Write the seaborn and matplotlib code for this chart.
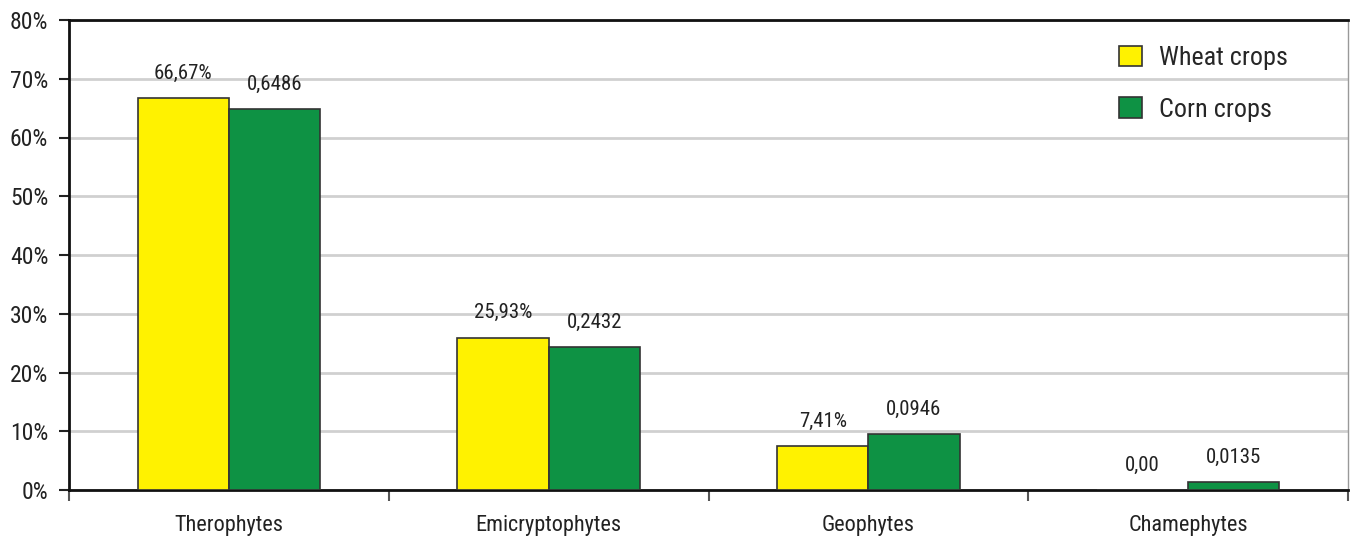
import matplotlib
matplotlib.use("Agg")
import matplotlib.pyplot as plt
import seaborn as sns
import pandas as pd
from matplotlib.patches import Patch
from matplotlib import font_manager

categories = ["Therophytes", "Emicryptophytes", "Geophytes", "Chamephytes"]
wheat = [66.67, 25.93, 7.41, 0.00]
corn = [64.86, 24.32, 9.46, 1.35]
wheat_labels = ["66,67%", "25,93%", "7,41%", "0,00"]
corn_labels = ["0,6486", "0,2432", "0,0946", "0,0135"]
series_names = ["Wheat crops", "Corn crops"]
y_ticks = [0, 10, 20, 30, 40, 50, 60, 70, 80]

colors = {"Wheat crops": "#FFF200", "Corn crops": "#0E9244"}

df = pd.DataFrame({
    "category": categories * 2,
    "value": wheat + corn,
    "series": [series_names[0]] * 4 + [series_names[1]] * 4,
})

sns.set_style("white")

# Prefer a narrow sans face when one is installed
narrow_face = None
for f in font_manager.fontManager.ttflist:
    if f.style != "normal" or f.weight not in (400, "normal", "regular"):
        continue
    name = f.name
    if any(k in name for k in ("Narrow", "Condensed")) or f.stretch in ("condensed", "semi-condensed", 500 - 125, 375):
        if any(k in name for k in ("Liberation", "Arial", "Roboto", "Noto Sans", "Open Sans", "DejaVu Sans")):
            if "Mono" in name or "CJK" in name:
                continue
            narrow_face = f
            if "Liberation" in name or "Arial" in name:
                break

if narrow_face is not None:
    plt.rcParams["font.family"] = [narrow_face.name, "Liberation Sans", "DejaVu Sans"]
    plt.rcParams["font.stretch"] = narrow_face.stretch
    scale = 1.0
else:
    plt.rcParams["font.family"] = ["Liberation Sans", "DejaVu Sans"]
    scale = 0.82

fig = plt.figure(figsize=(13.5, 5.38), dpi=100)
ax = fig.add_axes([69 / 1350, 48 / 538, (1348 - 69) / 1350, 470 / 538])

sns.barplot(data=df, x="category", y="value", hue="series", order=categories,
            hue_order=series_names, palette=colors, width=0.57, dodge=True,
            edgecolor="#333333", linewidth=1.2, saturation=1, errorbar=None,
            legend=False, ax=ax, zorder=3)

ax.set_ylim(0, 80)
ax.set_xlim(-0.5, 3.5)
ax.set_yticks(y_ticks)
ax.set_yticklabels([f"{t}%" for t in y_ticks], fontsize=17 * scale, color="#222222")
ax.yaxis.grid(True, color="#d0d0d0", linewidth=2, zorder=0)
ax.set_axisbelow(True)

# Category names sit between the boundary ticks
ax.set_xticks([i - 0.5 for i in range(5)])
ax.set_xticklabels([])
ax.set_xticks(range(4), minor=True)
ax.set_xticklabels(categories, minor=True, fontsize=16 * scale, color="#222222")
ax.tick_params(axis="x", which="major", direction="out", length=8, width=1.5,
               color="#555555", bottom=True)
ax.tick_params(axis="x", which="minor", length=0, pad=18)
ax.tick_params(axis="y", direction="out", length=7, width=1.5, color="#222222",
               left=True, pad=8)
ax.set_xlabel("")
ax.set_ylabel("")

for side in ["left", "bottom", "top"]:
    ax.spines[side].set_visible(True)
    ax.spines[side].set_color("#111111")
    ax.spines[side].set_linewidth(2)
ax.spines["right"].set_visible(True)
ax.spines["right"].set_color("#999999")
ax.spines["right"].set_linewidth(1)

# Value labels above each bar
for container, labels in zip(ax.containers, [wheat_labels, corn_labels]):
    ax.bar_label(container, labels=labels, padding=11, fontsize=15 * scale,
                 color="#222222")

handles = [Patch(facecolor=colors[n], edgecolor="#333333", linewidth=1.2)
           for n in series_names]
ax.legend(handles, series_names, loc="upper right", bbox_to_anchor=(0.969, 0.99),
          frameon=False, fontsize=18.8 * scale, handlelength=0.85, handleheight=0.85,
          labelspacing=1.05, handletextpad=0.65, borderpad=0.3)

fig.savefig("out.png", dpi=100)
